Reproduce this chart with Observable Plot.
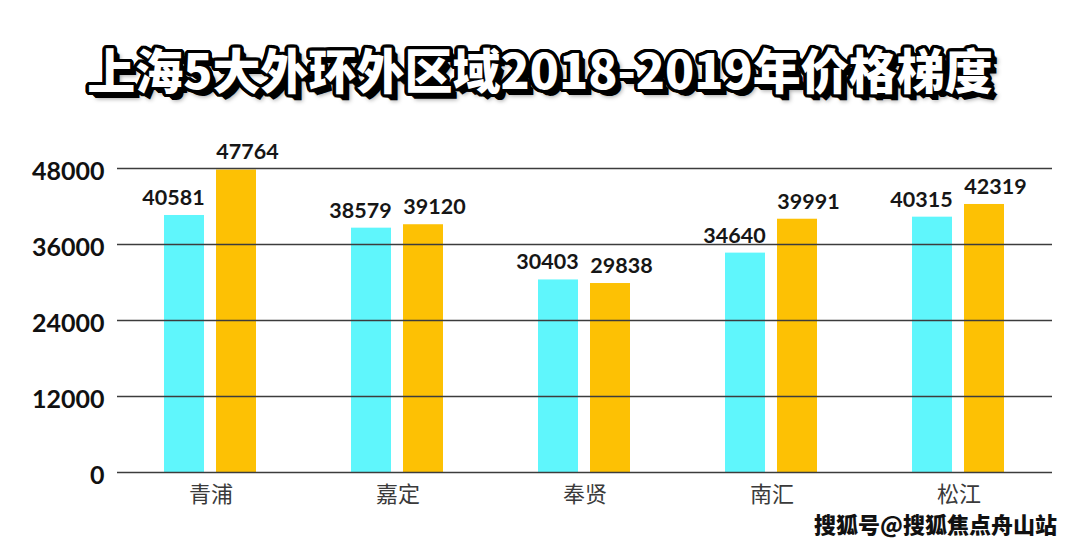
<!DOCTYPE html>
<html><head><meta charset="utf-8">
<script src="https://cdn.jsdelivr.net/npm/d3@7"></script>
<script src="https://cdn.jsdelivr.net/npm/@observablehq/plot@0.6"></script>
<style>
html,body{margin:0;padding:0;background:#fff;}
body{width:1080px;height:549px;overflow:hidden;position:relative;}
#title{position:absolute;top:36px;left:0;width:1080px;text-align:center;
  font-family:"Noto Sans CJK SC","Noto Sans",sans-serif;font-weight:900;font-size:48px;line-height:64px;color:#fff;}
#chart{position:absolute;top:120px;left:0;}
#wm{position:absolute;right:23px;top:508px;font-family:"Noto Sans CJK SC",sans-serif;font-weight:900;font-size:22px;line-height:30px;color:#111;
  text-shadow:1px 1px 0 #fff,-1px -1px 0 #fff,1px -1px 0 #fff,-1px 1px 0 #fff;}
</style></head><body>
<div id="title">上海5大外环外区域2018-2019年价格梯度</div>
<div id="chart"></div>
<div id="wm">搜狐号@搜狐焦点舟山站</div>
<script>
const regions = ["青浦", "嘉定", "奉贤", "南汇", "松江"];
const years = ["2018", "2019"];
const values2018 = [40581, 38579, 30403, 34640, 40315];
const values2019 = [47764, 39120, 29838, 39991, 42319];
const yTicks = [0, 12000, 24000, 36000, 48000];

const data = regions.flatMap((r, i) => [
  {region: r, year: years[0], value: values2018[i]},
  {region: r, year: years[1], value: values2019[i]}
]);

// title outline via layered shadows
(function(){
  const sh = [];
  const r = 3.5;
  for (let a = 0; a < 360; a += 20) {
    const x = (r*Math.cos(a*Math.PI/180)).toFixed(1), y = (r*Math.sin(a*Math.PI/180)).toFixed(1);
    sh.push(`${x}px ${y}px 0 #000`);
  }
  for (let k = 1; k <= 4; k++) sh.push(`${2+k}px ${2+k}px 0 #000`);
  sh.push(`7px 7px 4px rgba(0,0,0,0.35)`);
  document.getElementById("title").style.textShadow = sh.join(",");
})();

const labelStyle = {fx: "region", x: "year", y: "value", text: d => String(d.value),
  dy: -17.5, fontSize: 21.5, fontWeight: "bold", fill: "#161616"};

const chart = Plot.plot({
  width: 1080,
  height: 429,
  marginLeft: 115,
  marginRight: 27,
  marginTop: 48,
  marginBottom: 77,
  style: {fontFamily: "Lato, 'Noto Sans CJK SC', sans-serif", background: "#fff"},
  fx: {domain: regions, padding: 0, label: null, axis: null},
  x: {domain: years, paddingInner: 12/53, paddingOuter: 0.883, axis: null},
  y: {domain: [0, 48000], axis: null},
  color: {domain: years, range: ["#5ff6fc", "#fdc104"]},
  marks: [
    Plot.barY(data, {fx: "region", x: "year", y: "value", fill: "year"}),
    Plot.ruleY(yTicks, {stroke: "#3c3c3c", strokeWidth: 1.6}),
    Plot.text(data.filter(d => d.year === years[0]), {...labelStyle, dx: -11}),
    Plot.text(data.filter(d => d.year === years[1]), {...labelStyle, dx: 11}),
    Plot.axisY(yTicks, {tickSize: 0, tickPadding: 13, fontSize: 25, fontWeight: "bold", dy: 3,
      tickFormat: d => String(d), fill: "#111", label: null}),
    Plot.axisFx({anchor: "bottom", tickSize: 0, tickPadding: 14, fontSize: 22, fill: "#3a3a3a",
      fontFamily: "'Noto Sans CJK SC', sans-serif", label: null})
  ]
});
document.getElementById("chart").appendChild(chart);
</script>
</body></html>
